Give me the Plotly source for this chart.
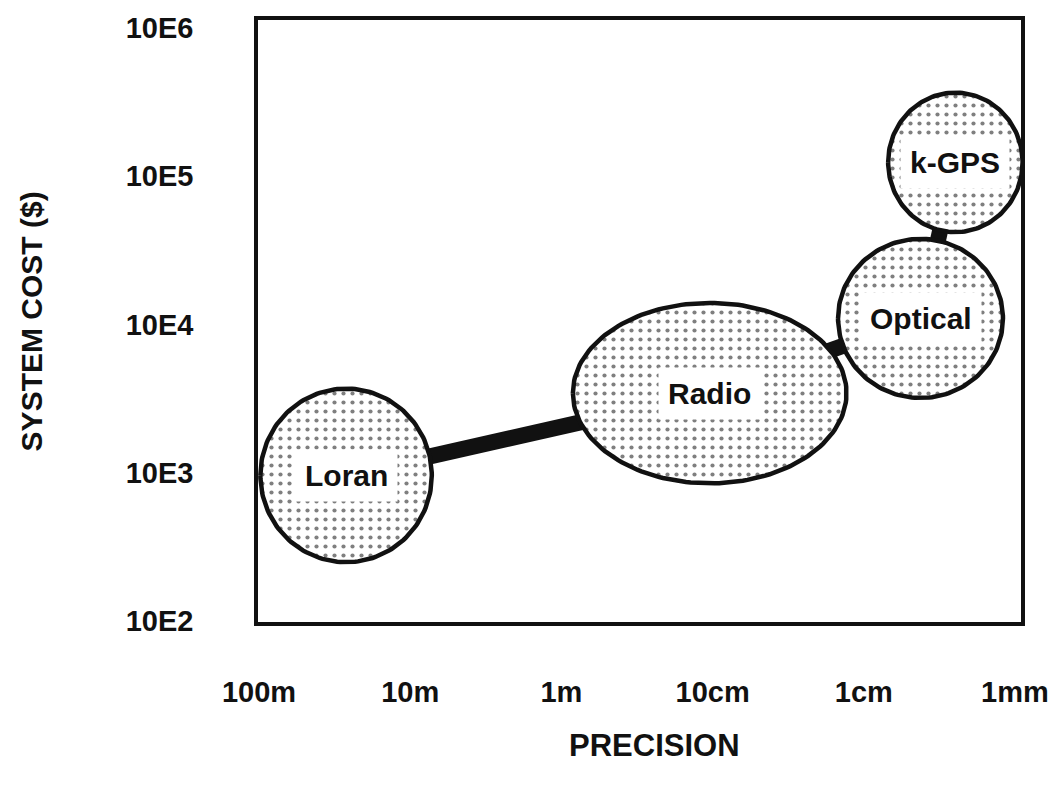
import numpy as np
import plotly.graph_objects as go

# ---- data ----
technologies = ["Loran", "Radio", "Optical", "k-GPS"]
precision_coarse_m = [98, 0.84, 0.0148, 0.0069]      # left edge of each region (m)
precision_fine_m = [7.2, 0.013, 0.0012, 0.00089]     # right edge of each region (m)
cost_low_usd = [250, 850, 3200, 42000]
cost_high_usd = [3700, 14000, 37800, 366000]
links = [("Loran", "Radio"), ("Radio", "Optical"), ("Optical", "k-GPS")]

x_tick_vals = [100, 10, 1, 0.1, 0.01, 0.001]
x_tick_text = ["100m", "10m", "1m", "10cm", "1cm", "1mm"]
y_tick_vals = [1e2, 1e3, 1e4, 1e5, 1e6]
y_tick_text = ["10E2", "10E3", "10E4", "10E5", "10E6"]

FONT = "Liberation Sans"
INK = "#111111"


def centre(i):
    cx = (np.log10(precision_coarse_m[i]) + np.log10(precision_fine_m[i])) / 2
    cy = (np.log10(cost_low_usd[i]) + np.log10(cost_high_usd[i])) / 2
    return cx, cy


fig = go.Figure()

# connectors between region centres (drawn underneath)
for a, b in links:
    ia, ib = technologies.index(a), technologies.index(b)
    (ax_, ay_), (bx_, by_) = centre(ia), centre(ib)
    fig.add_trace(go.Scatter(
        x=[10 ** ax_, 10 ** bx_], y=[10 ** ay_, 10 ** by_], mode="lines",
        line=dict(color=INK, width=16), hoverinfo="skip", showlegend=False))

# stippled regions
t = np.linspace(0, 2 * np.pi, 181)
for i, name in enumerate(technologies):
    cx, cy = centre(i)
    rx = abs(np.log10(precision_coarse_m[i]) - np.log10(precision_fine_m[i])) / 2
    ry = abs(np.log10(cost_high_usd[i]) - np.log10(cost_low_usd[i])) / 2
    fig.add_trace(go.Scatter(
        x=10 ** (cx + rx * np.cos(t)), y=10 ** (cy + ry * np.sin(t)),
        mode="lines", fill="toself",
        fillpattern=dict(shape=".", fgcolor="#000000", bgcolor="white", size=9, solidity=0.17),
        line=dict(color=INK, width=4.5), name=name, showlegend=False, hoverinfo="name"))
    fig.add_annotation(x=cx, y=cy, xref="x", yref="y", text=name, showarrow=False,
                       font=dict(family=FONT, size=30, color=INK, weight="bold"),
                       bgcolor="white", borderpad=9)

fig.update_xaxes(type="log", range=[2.007, -3.04], tickmode="array",
                 tickvals=x_tick_vals, ticktext=x_tick_text,
                 showgrid=False, zeroline=False, showline=True, mirror=True,
                 linecolor=INK, linewidth=3.5, ticks="", ticklabelstandoff=41,
                 tickfont=dict(family=FONT, size=29, color=INK, weight="bold"))
fig.update_yaxes(type="log", range=[1.995, 6.053], tickmode="array",
                 tickvals=y_tick_vals, ticktext=y_tick_text,
                 showgrid=False, zeroline=False, showline=True, mirror=True,
                 linecolor=INK, linewidth=3.5, ticks="", ticklabelstandoff=55,
                 tickfont=dict(family=FONT, size=29, color=INK, weight="bold"))

fig.add_annotation(text="PRECISION", xref="paper", yref="paper", x=0.52, y=-0.205,
                   xanchor="center", yanchor="middle", showarrow=False,
                   font=dict(family=FONT, size=31, color=INK, weight="bold"))
fig.add_annotation(text="SYSTEM COST ($)", xref="paper", yref="paper", x=-0.297, y=0.5,
                   xanchor="center", yanchor="middle", textangle=-90, showarrow=False,
                   font=dict(family=FONT, size=30, color=INK, weight="bold"))

fig.update_layout(width=1061, height=787, margin=dict(l=258, r=35, t=17, b=165),
                  paper_bgcolor="white", plot_bgcolor="white", showlegend=False)

# remove the default page margin so the figure fills the window exactly
fig.write_html(
    "out.html",
    config={"displayModeBar": False},
    post_script=("document.documentElement.style.margin='0';"
                 "document.body.style.margin='0';"
                 "document.documentElement.style.overflow='hidden';"
                 "document.body.style.overflow='hidden';"),
)
